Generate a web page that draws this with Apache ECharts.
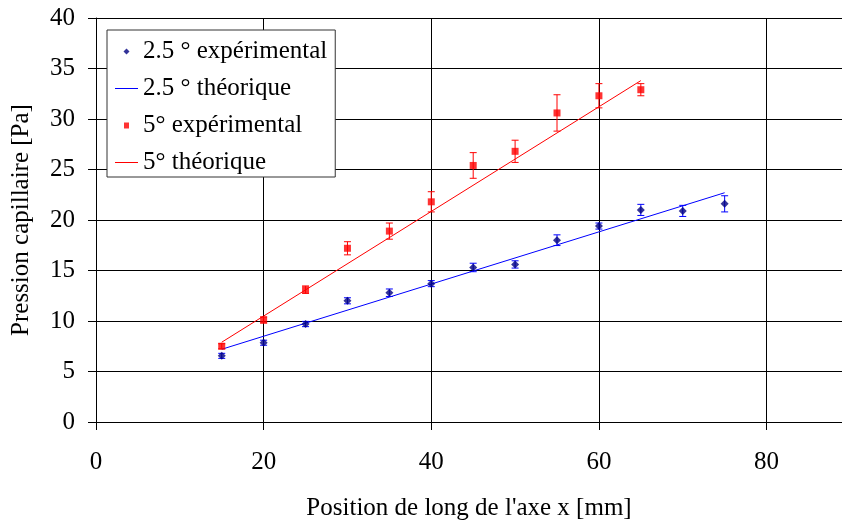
<!DOCTYPE html>
<html>
<head>
<meta charset="utf-8">
<script src="https://cdn.jsdelivr.net/npm/echarts@6/dist/echarts.min.js"></script>
<style>
html,body{margin:0;padding:0;background:#fff;overflow:hidden;}
#chart{width:842px;height:526px;}
</style>
</head>
<body>
<div id="chart"></div>
<script>
// ---- data ----
const xBlue   = [15, 20, 25, 30, 35, 40, 45, 50, 55, 60, 65, 70, 75];
const yBlue   = [6.55, 7.85, 9.7, 12.0, 12.8, 13.7, 15.3, 15.6, 18.0, 19.4, 21.0, 20.9, 21.6];
const errBlue = [0.25, 0.25, 0.26, 0.3, 0.37, 0.3, 0.42, 0.36, 0.53, 0.3, 0.55, 0.55, 0.8];

const xRed    = [15, 20, 25, 30, 35, 40, 45, 50, 55, 60, 65];
const yRed    = [7.5, 10.1, 13.1, 17.2, 18.9, 21.8, 25.4, 26.8, 30.6, 32.3, 32.9];
const errRed  = [0.25, 0.3, 0.37, 0.65, 0.8, 1.0, 1.27, 1.1, 1.8, 1.2, 0.6];

const xBlueTheo = [15, 75];
const yBlueTheo = [7.2, 22.7];
const xRedTheo  = [15, 65];
const yRedTheo  = [7.9, 33.8];

const names = ['2.5 ° expérimental', '2.5 ° théorique', '5° expérimental', '5° théorique'];

const xTicks = [0, 20, 40, 60, 80];

// ---- build ----
const zip = (xs, ys) => xs.map((x, i) => [x, ys[i]]);
const zip3 = (xs, ys, es) => xs.map((x, i) => [x, ys[i], es[i]]);

function errRenderer(color) {
  return function (params, api) {
    const x = api.value(0), y = api.value(1), e = api.value(2);
    const t = api.coord([x, y + e]);
    const b = api.coord([x, y - e]);
    const hw = 3.5;
    const st = {stroke: color, lineWidth: 1};
    return {
      type: 'group',
      children: [
        {type: 'line', shape: {x1: t[0], y1: t[1], x2: b[0], y2: b[1]}, style: st},
        {type: 'line', shape: {x1: t[0] - hw, y1: t[1], x2: t[0] + hw, y2: t[1]}, style: st},
        {type: 'line', shape: {x1: b[0] - hw, y1: b[1], x2: b[0] + hw, y2: b[1]}, style: st}
      ]
    };
  };
}

const FONT = 'Liberation Serif';
const FS = 25;
const LINE_ICON = 'path://M0,0M23,14M0,6.5L23,6.5L23,7.5L0,7.5Z';
const txt = {fontFamily: FONT, fontSize: FS, color: '#000'};

const chart = echarts.init(document.getElementById('chart'), null, {renderer: 'canvas'});
chart.setOption({
  animation: false,
  backgroundColor: '#fff',
  textStyle: {fontFamily: FONT, fontSize: FS, color: '#000'},
  grid: {left: 96, right: 0, top: 18, bottom: 99, containLabel: false},
  legend: {
    orient: 'vertical',
    left: 107,
    top: 30,
    padding: [9, 8, 2, 8],
    itemGap: 12,
    itemWidth: 23,
    itemHeight: 14,
    backgroundColor: '#fff',
    borderColor: '#333',
    borderWidth: 1,
    borderRadius: 0,
    textStyle: {fontFamily: FONT, fontSize: FS, color: '#000', lineHeight: 24},
    data: [
      {name: names[0], icon: 'path://M0,0M23,14M11.5,4L14.5,7L11.5,10L8.5,7Z', itemStyle: {color: '#000080'}, textStyle: txt},
      {name: names[1], icon: LINE_ICON, itemStyle: {color: '#0000ff'}, textStyle: txt},
      {name: names[2], icon: 'path://M0,0M23,14M9,4L14,4L14,10L9,10Z', itemStyle: {color: '#ff0000'}, textStyle: txt},
      {name: names[3], icon: LINE_ICON, itemStyle: {color: '#ff0000'}, textStyle: txt}
    ]
  },
  xAxis: {
    type: 'value',
    min: 0, max: 89, interval: 20,
    name: "Position de long de l'axe x [mm]",
    nameLocation: 'middle',
    nameGap: 74,
    nameTextStyle: txt,
    axisLine: {show: true, onZero: false, lineStyle: {color: '#000', width: 1}},
    axisTick: {show: true, inside: false, length: 8, lineStyle: {color: '#000'}},
    axisLabel: {fontFamily: FONT, fontSize: FS, color: '#000', margin: 28, showMaxLabel: false,
      formatter: v => (xTicks.indexOf(v) >= 0 ? String(v) : '')},
    splitLine: {show: true, lineStyle: {color: '#000', width: 1}}
  },
  yAxis: {
    type: 'value',
    min: 0, max: 40, interval: 5,
    name: 'Pression capillaire [Pa]',
    nameLocation: 'middle',
    nameGap: 62,
    nameTextStyle: txt,
    axisLine: {show: true, onZero: false, lineStyle: {color: '#000', width: 1}},
    axisTick: {show: true, inside: false, length: 8, lineStyle: {color: '#000'}},
    axisLabel: {fontFamily: FONT, fontSize: FS, color: '#000', margin: 21},
    splitLine: {show: true, lineStyle: {color: '#000', width: 1}}
  },
  series: [
    {
      name: 'errBlue', type: 'custom', renderItem: errRenderer('#0000ff'),
      data: zip3(xBlue, yBlue, errBlue), z: 2, silent: true
    },
    {
      name: 'errRed', type: 'custom', renderItem: errRenderer('#ff0000'),
      data: zip3(xRed, yRed, errRed), z: 2, silent: true
    },
    {
      name: names[1], type: 'line', data: zip(xBlueTheo, yBlueTheo),
      showSymbol: false, symbol: 'none', color: '#0000ff',
      lineStyle: {color: '#0000ff', width: 1}, z: 3
    },
    {
      name: names[3], type: 'line', data: zip(xRedTheo, yRedTheo),
      showSymbol: false, symbol: 'none', color: '#ff0000',
      lineStyle: {color: '#ff0000', width: 1}, z: 3
    },
    {
      name: names[0], type: 'scatter', data: zip(xBlue, yBlue),
      symbol: 'diamond', symbolSize: 8, itemStyle: {color: '#000080'}, z: 4
    },
    {
      name: names[2], type: 'scatter', data: zip(xRed, yRed),
      symbol: 'rect', symbolSize: 7, itemStyle: {color: '#ff0000'}, z: 4
    }
  ]
});
</script>
</body>
</html>
